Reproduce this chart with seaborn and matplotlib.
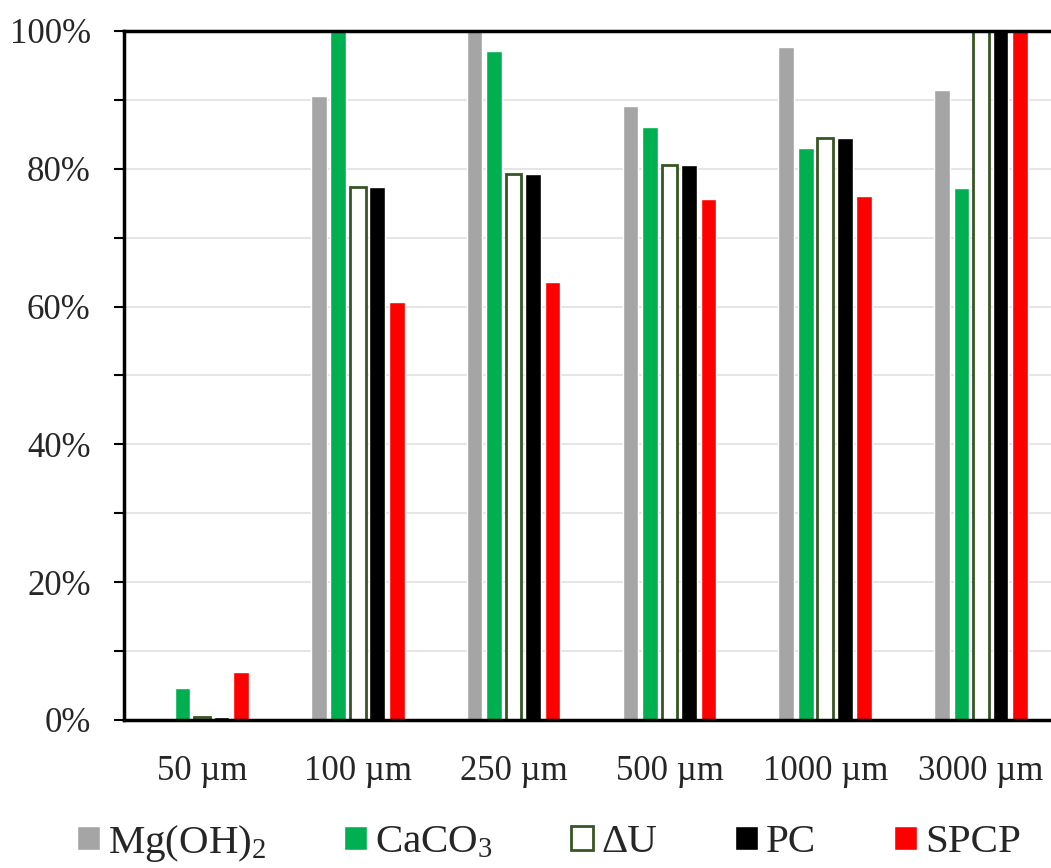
import numpy as np
import pandas as pd
import matplotlib
matplotlib.use("Agg")
import matplotlib.pyplot as plt
import matplotlib.ticker as mticker
import seaborn as sns

# Dados (fração)
sizes = ['50 µm', '100 µm', '250 µm', '500 µm', '1000 µm', '3000 µm']
series = ['Mg(OH)$_2$', 'CaCO$_3$', 'ΔU', 'PC', 'SPCP']
mg_oh2 = [0.0, 0.906, 1.0, 0.891, 0.977, 0.914]
caco3 = [0.046, 1.0, 0.971, 0.861, 0.830, 0.772]
delta_u = [0.004, 0.774, 0.792, 0.806, 0.845, 1.0]
pc = [0.004, 0.774, 0.792, 0.806, 0.845, 1.0]
spcp = [0.069, 0.606, 0.636, 0.756, 0.761, 1.0]
colors = ['#A5A5A5', '#00B050', '#FFFFFF', '#000000', '#FF0000']

values = [mg_oh2, caco3, delta_u, pc, spcp]
df = pd.DataFrame({
    'size': np.tile(sizes, len(series)),
    'series': np.repeat(series, len(sizes)),
    'value': np.concatenate(values),
})

sns.set_style("white")
plt.rcParams['font.family'] = ['Liberation Serif', 'DejaVu Serif']
plt.rcParams['mathtext.fontset'] = 'custom'
plt.rcParams['mathtext.rm'] = 'Liberation Serif'
plt.rcParams['mathtext.it'] = 'Liberation Serif'

fig = plt.figure(figsize=(10.51, 8.68), dpi=100)
ax = fig.add_axes([124 / 1051, 1 - 720 / 868, 935 / 1051, 689 / 868])

sns.barplot(data=df, x='size', y='value', hue='series', order=sizes, hue_order=series,
            palette=colors, width=0.625, gap=0.2, legend=False, ax=ax, saturation=1)

# ΔU: barras vazadas com contorno verde escuro
for bar in ax.containers[2]:
    bar.set_facecolor('white')
    bar.set_edgecolor('#375623')
    bar.set_linewidth(2)

ax.set_xlim(-0.5, 5.5)
ax.set_ylim(0, 1)
ax.yaxis.set_major_locator(mticker.MultipleLocator(0.2))
ax.yaxis.set_minor_locator(mticker.MultipleLocator(0.1))
ax.yaxis.set_major_formatter(mticker.PercentFormatter(1.0, decimals=0))
ax.grid(True, axis='y', which='both', color='#E0E0E0', linewidth=1.2)
ax.set_axisbelow(True)

for side in ['left', 'bottom', 'top']:
    ax.spines[side].set_color('black')
    ax.spines[side].set_linewidth(2.5)
ax.spines['right'].set_visible(False)

ax.tick_params(axis='y', which='both', direction='out', length=7, width=1.5,
               color='black', labelsize=25, pad=17, left=True)
ax.tick_params(axis='x', length=0, labelsize=25, pad=25)
ax.set_xlabel('')
ax.set_ylabel('')

ax.legend(handles=list(ax.containers), labels=series, ncol=5, frameon=False,
          loc='center', bbox_to_anchor=(425 / 935, -123 / 689), fontsize=29.5,
          handlelength=0.55, handleheight=0.55, handletextpad=0.2, columnspacing=1.9,
          borderaxespad=0, borderpad=0)

fig.savefig('out.png', dpi=100)
